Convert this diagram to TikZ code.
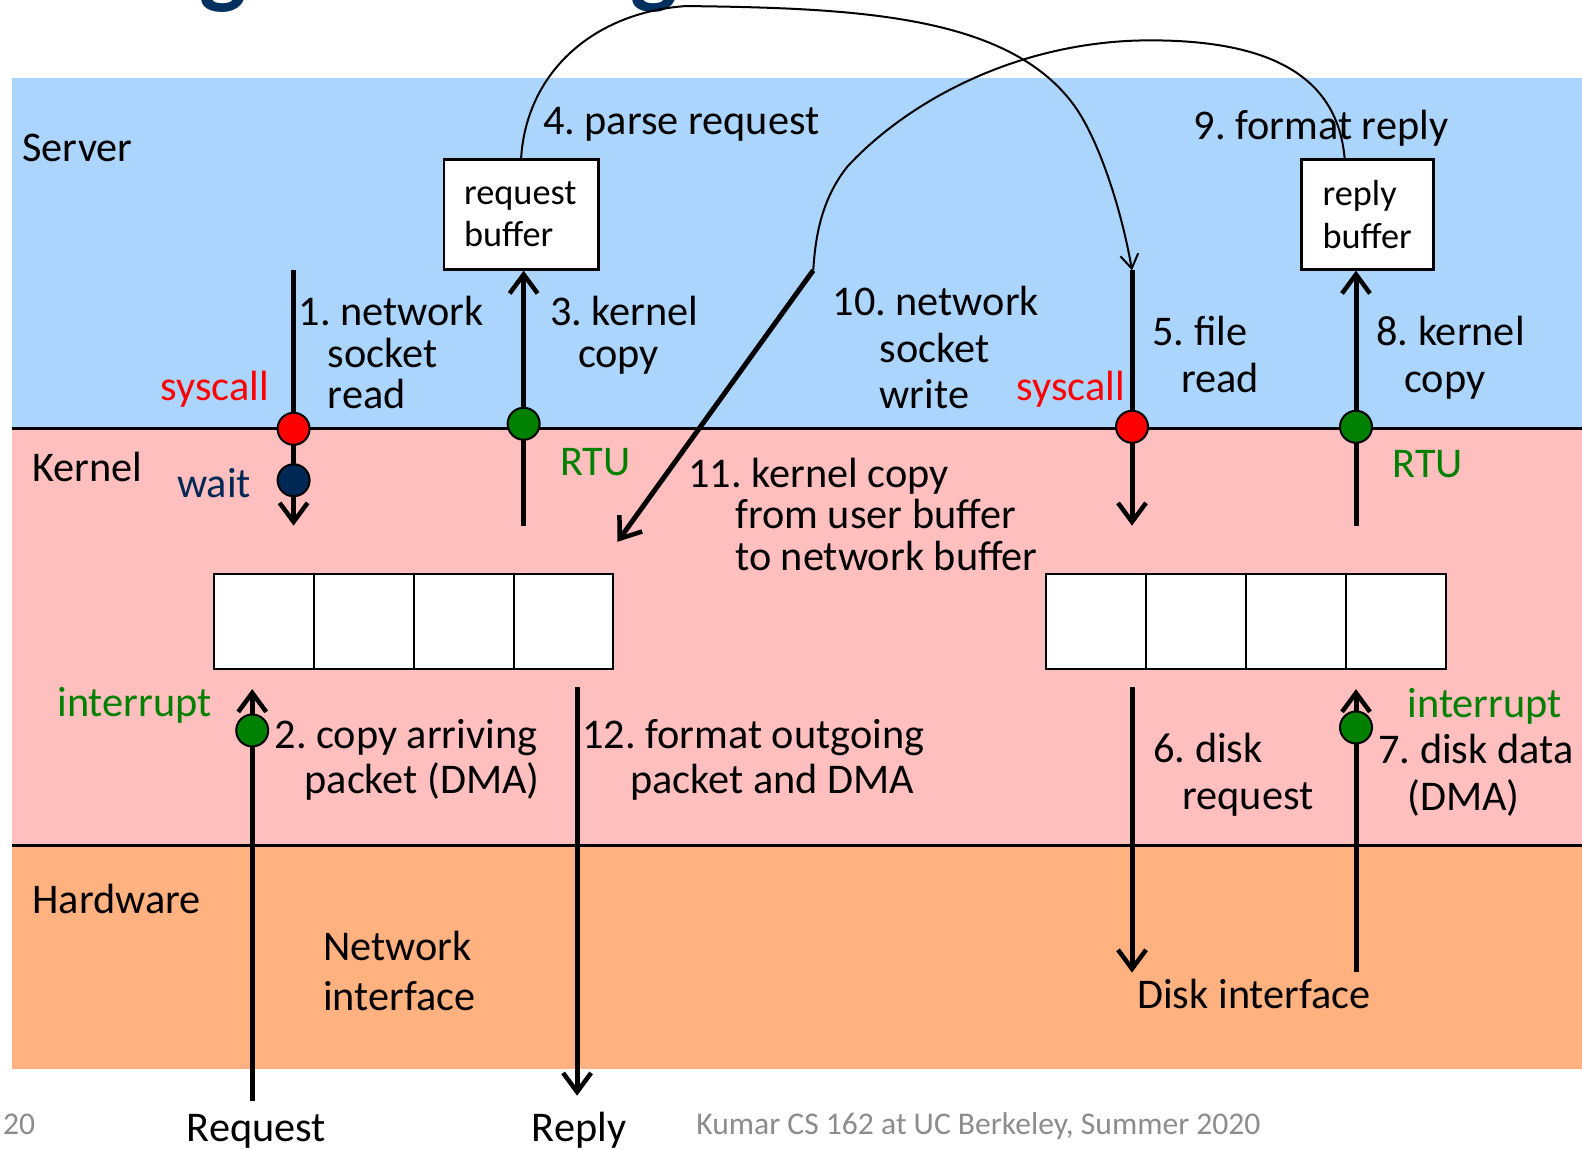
\documentclass[tikz,border=0pt]{standalone}
\usepackage{fontspec}
\setmainfont{Carlito}
\usetikzlibrary{arrows.meta}
\definecolor{serverbg}{RGB}{172,213,253}
\definecolor{kernelbg}{RGB}{255,191,191}
\definecolor{hardwarebg}{RGB}{255,177,128}
\definecolor{syscallred}{RGB}{255,0,0}
\definecolor{rtugreen}{RGB}{0,128,0}
\definecolor{waitblue}{RGB}{0,40,85}
\definecolor{titleblue}{RGB}{0,48,96}
\definecolor{footgray}{RGB}{140,140,140}
\newcommand{\myfont}{\fontsize{42.3}{44.4}\selectfont}
\newcommand{\boxfont}{\fontsize{36.3}{42.4}\selectfont}
\newcommand{\footfont}{\fontsize{31.6}{33}\selectfont}
\newcommand{\drawbands}{
	% server / kernel / hardware bands
	\fill[serverbg] (12,77) rectangle (1568,425);
	\fill[kernelbg] (12,425) rectangle (1568,838);
	\fill[hardwarebg] (12,838) rectangle (1568,1060);
	% borders between the bands
	\draw[line width=3pt] (12,425) -- (1568,425);
	\draw[line width=3pt] (12,838) -- (1568,838);
}
\newcommand{\drawcells}[2]{
	% four slot kernel buffer, #1 = left edge, #2 = name
	\foreach \i in {0,...,3}
		\node [cell] (#2\i) at (#1 + \i*99 + 49.5, 616) {};
}
\tikzset{
	lbl/.style={anchor=base west, inner sep=0pt, align=left, font=\myfont},
	bufbox/.style={draw, fill=white, line width=2.5pt, align=left, inner xsep=20pt, font=\boxfont, minimum height=110pt},
	cell/.style={draw, fill=white, line width=2pt, minimum width=99.9pt, minimum height=94.8pt, inner sep=0pt},
	dot/.style={circle, draw, line width=2pt, minimum size=32pt, inner sep=0pt},
	flow/.style={line width=5pt, -{Straight Barb[length=19pt,width=28pt,line width=4.5pt]}},
	link/.style={line width=2pt},
	titlefrag/.style={anchor=base, inner sep=0pt, text=titleblue, font=\bfseries\fontsize{100}{100}\selectfont},
}
\begin{document}
\frenchspacing
\begin{tikzpicture}[yscale=-1, x=1.0089pt, y=1.0089pt]

\useasboundingbox (0,0) rectangle (1568,1139);

\drawbands

% title of the slide, cut off at the top
\begin{scope}
\clip (0,0) rectangle (1568,1139);
\node [titlefrag] (tg1) at (221,-4) {g};
\node [titlefrag] (tg2) at (648,-4) {g};
\end{scope}

% band names
\node [lbl] (server) at (22,160) {Server};
\node [lbl] (kernel) at (32,477) {Kernel};
\node [lbl] (hardware) at (32,905) {Hardware};

% user buffers
\node [bufbox, minimum width=154.4pt, text width=114pt] (reqbuf) at (516.5,212.5) {request\\buffer};
\node [bufbox, minimum width=132.2pt, text width=90pt] (repbuf) at (1355.5,212.5) {reply\\buffer};

% ends of the arrows
\coordinate (a1top) at (291,268);
\coordinate (a1tip) at (291,521);
\coordinate (a3foot) at (519,521);
\coordinate (a5top) at (1122,268);
\coordinate (a5tip) at (1122,521);
\coordinate (a8foot) at (1344,521);
\coordinate (a2foot) at (250,1091);
\coordinate (a2tip) at (250,683);
\coordinate (a12top) at (572,681);
\coordinate (a12tip) at (572,1086);
\coordinate (a6top) at (1122,681);
\coordinate (a6tip) at (1122,964);
\coordinate (a7foot) at (1344,963);
\coordinate (a7tip) at (1344,683);
\coordinate (a10top) at (806,268);
\coordinate (a10tip) at (612,537);

% parse request / format reply
\draw [link, -{Straight Barb[length=14pt,width=18pt]}] (reqbuf.north) .. controls (522,70) and (590,12) .. (680,6) .. controls (850,8) and (1000,15) .. (1065,105) .. controls (1090,140) and (1112,210) .. (a5top);
\draw [link] ([xshift=-23pt]repbuf.north) .. controls (1325,70) and (1250,40) .. (1140,40) .. controls (1010,40) and (900,100) .. (840,165) .. controls (812,200) and (808,240) .. (a10top);

% syscalls and copies
\draw [flow] (a1top) -- (a1tip);
\draw [flow] (a3foot) -- (a3foot |- reqbuf.south);
\draw [flow] (a5top) -- (a5tip);
\draw [flow] (a8foot) -- (a8foot |- repbuf.south);
\draw [flow] (a10top) -- (a10tip);
\draw [flow] (a2foot) -- (a2tip);
\draw [flow] (a12top) -- (a12tip);
\draw [flow] (a6top) -- (a6tip);
\draw [flow] (a7foot) -- (a7tip);

% kernel buffers
\drawcells{212}{nb}
\drawcells{1037}{db}

% events on the arrows
\node [dot, fill=syscallred] (sys1) at (291,425) {};
\node [dot, fill=waitblue] (wait1) at (291,476) {};
\node [dot, fill=rtugreen] (rtu3) at (519,420) {};
\node [dot, fill=syscallred] (sys5) at (1122,423) {};
\node [dot, fill=rtugreen] (rtu8) at (1344,423) {};
\node [dot, fill=rtugreen] (int2) at (250,724) {};
\node [dot, fill=rtugreen] (int7) at (1344,721) {};

% server side labels
\node [lbl] (step4) at (538,133) {4. parse request};
\node [lbl] (step9) at (1183,138) {9. format reply};
\node [lbl] (step1) at (296,405) {1. network\\[-3pt]\hspace*{29pt}socket\\[-3pt]\hspace*{29pt}read};
\node [lbl] (step3) at (545,364) {3. kernel\\[-3pt]\hspace*{28pt}copy};
\node [lbl] (step10) at (825,405) {10. network\\[2pt]\hspace*{47pt}socket\\[2pt]\hspace*{47pt}write};
\node [lbl] (step5) at (1142,389) {5. file\\[3pt]\hspace*{29pt}read};
\node [lbl] (step8) at (1364,389) {8. kernel\\[3pt]\hspace*{28pt}copy};
\node [lbl, anchor=base east, text=syscallred] (sysl1) at (267,397) {syscall};
\node [lbl, anchor=base east, text=syscallred] (sysl5) at (1115,397) {syscall};

% kernel side labels
\node [lbl, anchor=base east, text=waitblue] (waitl) at (249,493) {wait};
\node [lbl, text=rtugreen] (rtul3) at (555,471) {RTU};
\node [lbl, text=rtugreen] (rtul8) at (1380,473) {RTU};
\node [lbl] (step11) at (682,565) {11. kernel copy\\[-3pt]\hspace*{47pt}from user buffer\\[-3pt]\hspace*{47pt}to network buffer};
\node [lbl, anchor=base east, text=rtugreen] (intl2) at (210,710) {interrupt};
\node [lbl, text=rtugreen] (intl7) at (1395,711) {interrupt};
\node [lbl] (step2) at (272,786) {2. copy arriving\\[0pt]\hspace*{30pt}packet (DMA)};
\node [lbl] (step12) at (577,786) {12. format outgoing\\[0pt]\hspace*{48pt}packet and DMA};
\node [lbl] (step6) at (1143,802) {6. disk\\[2pt]\hspace*{29pt}request};
\node [lbl] (step7) at (1366,803) {7. disk data\\[2pt]\hspace*{29pt}(DMA)};

% hardware labels
\node [lbl] (netif) at (320,1002) {Network\\[6pt]interface};
\node [lbl] (diskif) at (1127,1000) {Disk interface};
\node [lbl] (request) at (185,1131) {Request};
\node [lbl] (reply) at (527,1131) {Reply};

% footer
\node [lbl, font=\footfont, text=footgray] (footer) at (690,1124) {Kumar CS 162 at UC Berkeley, Summer 2020};
\node [lbl, anchor=base east, font=\footfont, text=footgray] (date) at (35,1124) {20};

\end{tikzpicture}
\end{document}
